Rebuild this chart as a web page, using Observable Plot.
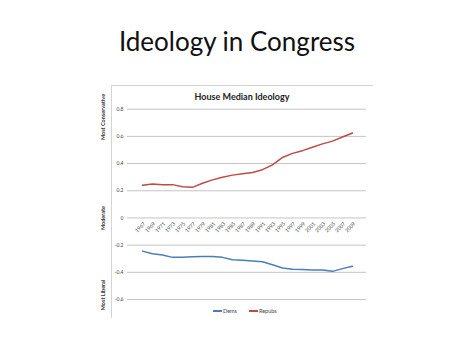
<!DOCTYPE html>
<html>
<head>
<meta charset="utf-8">
<script src="https://cdn.jsdelivr.net/npm/d3@7"></script>
<script src="https://cdn.jsdelivr.net/npm/@observablehq/plot@0.6"></script>
<style>
  html, body { margin: 0; padding: 0; background: #fff; }
  #page { position: relative; width: 474px; height: 355px; overflow: hidden; font-family: Lato, "Open Sans", sans-serif; }
  #title { position: absolute; left: 0; width: 474px; top: 25px; text-align: center; font-size: 26px; color: #111; }
  #frame { position: absolute; left: 111px; top: 85px; width: 261px; height: 232px; border-top: 1px solid #d4d4d4; border-left: 1px solid #d4d4d4; }
  #chartTitle { position: absolute; left: 0; width: 484px; top: 91px; text-align: center; font-size: 9px; font-weight: bold; color: #222; }
  #plot { position: absolute; left: 0; top: 80px; }
  .ytitle { position: absolute; font-size: 5.5px; font-weight: bold; color: #333; white-space: nowrap; transform: translate(-50%, -50%) rotate(-90deg); }
  #legend { position: absolute; left: 213px; top: 308px; font-size: 5.5px; color: #444; display: flex; align-items: center; gap: 4px; }
  #legend span.sw { display: inline-block; width: 9px; height: 1.3px; margin-right: 1px; }
</style>
</head>
<body>
<div id="page">
  <div id="title">Ideology in Congress</div>
  <div id="frame"></div>
  <div id="chartTitle">House Median Ideology</div>
  <div id="plot"></div>
  <div class="ytitle" style="left:103px; top:117px;">Most Conservative</div>
  <div class="ytitle" style="left:103px; top:218px;">Moderate</div>
  <div class="ytitle" style="left:103px; top:295px;">Most Liberal</div>
  <div id="legend"></div>
</div>
<script>
const years = ["1967","1969","1971","1973","1975","1977","1979","1981","1983","1985","1987","1989","1991","1993","1995","1997","1999","2001","2003","2005","2007","2009"];
const dems = [-0.244,-0.263,-0.273,-0.29,-0.29,-0.285,-0.283,-0.283,-0.29,-0.307,-0.312,-0.317,-0.322,-0.344,-0.368,-0.378,-0.38,-0.383,-0.383,-0.393,-0.373,-0.356];
const repubs = [0.24,0.25,0.245,0.245,0.23,0.225,0.255,0.28,0.30,0.315,0.325,0.335,0.355,0.39,0.445,0.475,0.495,0.52,0.545,0.565,0.595,0.625];
const yTicks = [-0.6,-0.4,-0.2,0,0.2,0.4,0.6,0.8];
const seriesNames = ["Dems","Repubs"];
const seriesColors = ["#4a7ebb","#be4b48"];

const demData = years.map((y,i) => ({year: y, value: dems[i]}));
const repData = years.map((y,i) => ({year: y, value: repubs[i]}));

const chart = Plot.plot({
  width: 474,
  height: 250,
  marginLeft: 127,
  marginRight: 108,
  marginTop: 28.7,
  marginBottom: 31,
  style: {fontFamily: "Lato, 'Open Sans', sans-serif", background: "transparent"},
  x: {type: "point", domain: years, padding: 0.5, axis: null},
  y: {domain: [-0.6, 0.8], axis: null},
  marks: [
    Plot.ruleY(yTicks, {stroke: "#c4c4c4", strokeWidth: 1}),
    Plot.axisY(yTicks, {tickSize: 0, tickPadding: 4, fontSize: 5, fill: "#444", label: null,
      tickFormat: d => d === 0 ? "0" : d.toFixed(1)}),
    Plot.text(years, {x: d => d, y: () => 0, text: d => d, rotate: -45, textAnchor: "end", dx: 2, dy: 5, fontSize: 5.2, fill: "#444"}),
    Plot.line(demData, {x: "year", y: "value", stroke: seriesColors[0], strokeWidth: 1.5}),
    Plot.line(repData, {x: "year", y: "value", stroke: seriesColors[1], strokeWidth: 1.5})
  ]
});
document.getElementById("plot").appendChild(chart);

const legend = document.getElementById("legend");
seriesNames.forEach((n,i) => {
  const item = document.createElement("div");
  item.innerHTML = `<span class="sw" style="background:${seriesColors[i]}"></span>${n}`;
  item.style.display = "flex"; item.style.alignItems = "center";
  item.style.marginRight = "8px";
  legend.appendChild(item);
});
</script>
</body>
</html>
